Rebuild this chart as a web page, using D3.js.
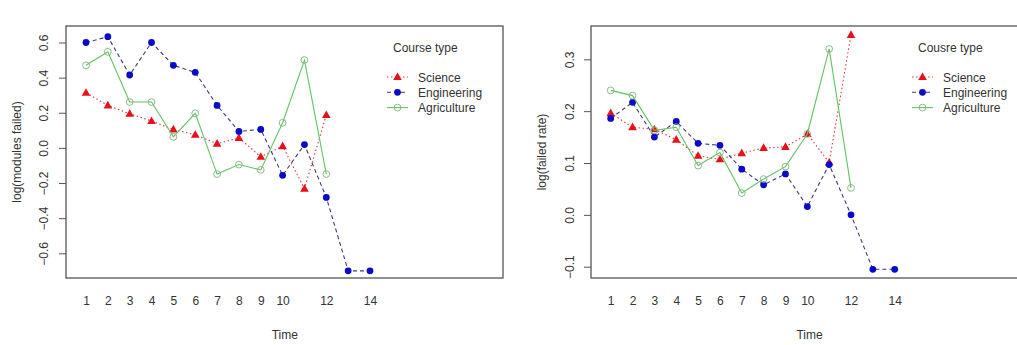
<!DOCTYPE html>
<html><head><meta charset="utf-8">
<script src="https://cdn.jsdelivr.net/npm/d3@7"></script>
<style>
html,body{margin:0;padding:0;background:#fff;}
text{font-family:"Liberation Sans",Arial,sans-serif;fill:#333;}
</style></head>
<body>
<svg id="chart" width="1017" height="345"></svg>
<script>
// ---- data ----
const time = [1,2,3,4,5,6,7,8,9,10,11,12,13,14];
const xTickLabels = [1,2,3,4,5,6,7,8,9,10,12,14];
const seriesNames = ["Science","Engineering","Agriculture"];

// left panel: log(modules failed)
const sciLeft = [0.314,0.242,0.194,0.153,0.105,0.075,0.024,0.057,-0.051,0.010,-0.232,0.187];
const engLeft = [0.600,0.633,0.415,0.600,0.470,0.430,0.242,0.094,0.105,-0.156,0.019,-0.282,-0.700,-0.700];
const agrLeft = [0.470,0.547,0.261,0.261,0.063,0.197,-0.149,-0.095,-0.125,0.143,0.500,-0.149];
const yTicksLeft = [-0.6,-0.4,-0.2,0.0,0.2,0.4,0.6];

// right panel: log(failed rate)
const sciRight = [0.196,0.169,0.165,0.145,0.114,0.107,0.119,0.129,0.131,0.156,0.101,0.347];
const engRight = [0.186,0.217,0.150,0.180,0.138,0.134,0.088,0.058,0.079,0.016,0.097,0.000,-0.105,-0.105];
const agrRight = [0.240,0.230,0.163,0.169,0.095,0.120,0.042,0.069,0.093,0.156,0.320,0.052];
const yTicksRight = [-0.1,0.0,0.1,0.2,0.3];

// ---- styles ----
const styles = {
  Science:     {line:"#e03838", dash:"1.5,2.5", width:1.1, marker:"tri",  fill:"#e8101c", stroke:"none"},
  Engineering: {line:"#3a3a78", dash:"4,3",     width:1.1, marker:"dot",  fill:"#0a0ac8", stroke:"none"},
  Agriculture: {line:"#62c262", dash:null,      width:1.1, marker:"ring", fill:"none",    stroke:"#88bb88"}
};

const svg = d3.select("#chart");

function drawPanel(cfg){
  const g = svg.append("g");
  const x = d3.scaleLinear().domain([1,14]).range([cfg.x1, cfg.x14]);
  const y = d3.scaleLinear().domain(cfg.yDomain).range(cfg.yRange);

  // box
  g.append("rect").attr("x",cfg.box[0]).attr("y",cfg.box[1])
    .attr("width",cfg.box[2]-cfg.box[0]).attr("height",cfg.box[3]-cfg.box[1])
    .attr("fill","none").attr("stroke","#555").attr("stroke-width",1.3);

  // y axis
  const yAxis = d3.axisLeft(y).tickValues(cfg.yTicks).tickSize(7).tickPadding(9)
    .tickFormat(d3.format(".1f"));
  const ya = g.append("g").attr("transform",`translate(${cfg.box[0]},0)`).call(yAxis);
  ya.select(".domain").remove();
  ya.selectAll("line").attr("stroke","#555");
  ya.selectAll("text").attr("font-size",12).attr("fill","#333")
    .attr("text-anchor","middle").attr("dy",null)
    .attr("x",0).attr("y",4)
    .attr("transform",`translate(${-cfg.tickLabelOff},0) rotate(-90)`);

  // x labels (no ticks)
  const xAxis = d3.axisBottom(x).tickValues(xTickLabels).tickSize(0).tickPadding(18).tickFormat(d3.format("d"));
  const xa = g.append("g").attr("transform",`translate(0,${cfg.box[3]})`).call(xAxis);
  xa.select(".domain").remove();
  xa.selectAll("text").attr("font-size",12).attr("fill","#333");

  // titles
  g.append("text").attr("x",x(10.1)).attr("y",339).attr("text-anchor","middle")
    .attr("font-size",12).text("Time");
  g.append("text").attr("transform",`translate(${cfg.yTitleX},${(cfg.box[1]+cfg.box[3])/2}) rotate(-90)`)
    .attr("text-anchor","middle").attr("font-size",12).text(cfg.yTitle);

  const line = d3.line().x((d,i)=>x(time[i])).y(d=>y(d));
  const dataMap = {Science:cfg.sci, Engineering:cfg.eng, Agriculture:cfg.agr};

  seriesNames.forEach(name=>{
    const s = styles[name], vals = dataMap[name];
    g.append("path").datum(vals).attr("d",line).attr("fill","none")
      .attr("stroke",s.line).attr("stroke-width",s.width)
      .attr("stroke-dasharray",s.dash);
    drawMarkers(g, vals.map((v,i)=>[x(time[i]),y(v)]), s);
  });

  // legend
  g.append("text").attr("x",cfg.legX).attr("y",52).attr("font-size",12).text(cfg.legTitle);
  seriesNames.forEach((name,i)=>{
    const s = styles[name];
    const ly = 77 + i*15.3;
    g.append("line").attr("x1",cfg.legLine[0]).attr("x2",cfg.legLine[1])
      .attr("y1",ly).attr("y2",ly).attr("stroke",s.line).attr("stroke-width",s.width)
      .attr("stroke-dasharray",s.dash);
    drawMarkers(g, [[(cfg.legLine[0]+cfg.legLine[1])/2, ly]], s);
    g.append("text").attr("x",cfg.legText).attr("y",ly+4.5).attr("font-size",12).text(name);
  });
}

function drawMarkers(g, pts, s){
  pts.forEach(([px,py])=>{
    if(s.marker==="tri"){
      g.append("path").attr("d",`M${px},${py-4.6}L${px+4.3},${py+3}L${px-4.3},${py+3}Z`)
        .attr("fill",s.fill);
    } else if(s.marker==="dot"){
      g.append("circle").attr("cx",px).attr("cy",py).attr("r",3.4).attr("fill",s.fill);
    } else {
      g.append("circle").attr("cx",px).attr("cy",py).attr("r",3.4)
        .attr("fill","none").attr("stroke",s.stroke).attr("stroke-width",1);
    }
  });
}

drawPanel({
  x1:86, x14:370, box:[66,26,503,278],
  yDomain:[-0.6,0.6], yRange:[253.3,42.5], yTicks:yTicksLeft,
  tickLabelOff:22, yTitleX:21, yTitle:"log(modules failed)",
  sci:sciLeft, eng:engLeft, agr:agrLeft,
  legX:393, legTitle:"Course type", legLine:[387,408], legText:418
});

drawPanel({
  x1:610.7, x14:894.7, box:[591,26,1030,278],
  yDomain:[-0.1,0.3], yRange:[266.7,59.3], yTicks:yTicksRight,
  tickLabelOff:21, yTitleX:546, yTitle:"log(failed rate)",
  sci:sciRight, eng:engRight, agr:agrRight,
  legX:918, legTitle:"Cousre type", legLine:[912,933], legText:943
});
</script>
</body></html>
